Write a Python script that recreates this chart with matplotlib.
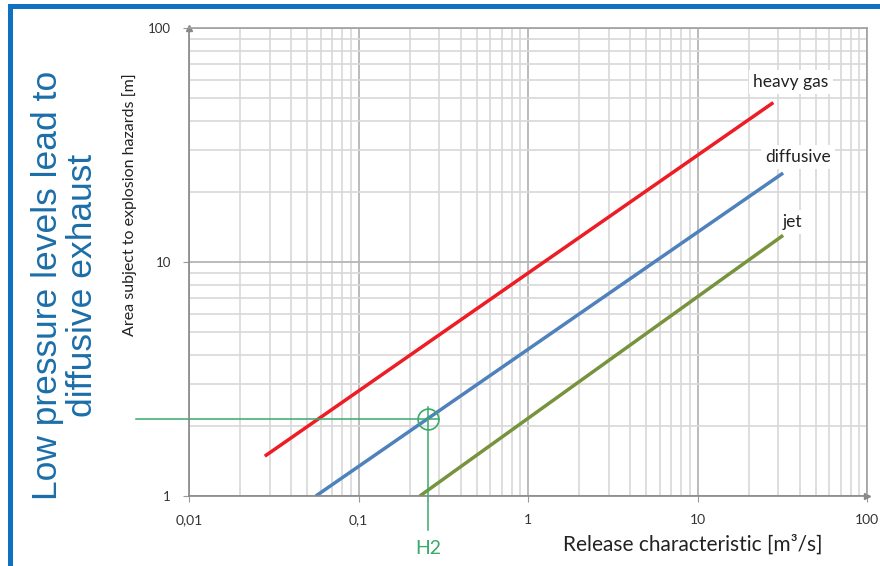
import matplotlib
matplotlib.use('Agg')
import matplotlib.pyplot as plt
from matplotlib.patches import Rectangle
from matplotlib.ticker import FixedLocator, LogLocator, NullFormatter

# line endpoints (release characteristic [m3/s], area [m])
heavy_x = [0.028, 28]
heavy_y = [1.48, 48]
diff_x = [0.056, 32]
diff_y = [1.0, 24]
jet_x = [0.23, 32]
jet_y = [1.0, 13]

# H2 reading point
h2_x = 0.256
h2_y = 2.13

xticks = [0.01, 0.1, 1, 10, 100]
xticklabels = ['0,01', '0,1', '1', '10', '100']
yticks = [1, 10, 100]
yticklabels = ['1', '10', '100']

W, H = 880, 566
fig = plt.figure(figsize=(W / 100, H / 100), dpi=100)

# slide frame
fig.add_artist(Rectangle((8 / W, 1 - 9 / H), 1, 5 / H, transform=fig.transFigure,
                         color='#1071c2', lw=0))
fig.add_artist(Rectangle((8 / W, 0), 5 / W, 1 - 4 / H, transform=fig.transFigure,
                         color='#1071c2', lw=0))

ax = fig.add_axes([189 / W, 1 - 496 / H, (867 - 189) / W, (496 - 28) / H])
ax.set_xscale('log')
ax.set_yscale('log')
ax.set_xlim(0.01, 100)
ax.set_ylim(1, 100)

ax.xaxis.set_minor_locator(LogLocator(base=10, subs=range(2, 10)))
ax.yaxis.set_minor_locator(LogLocator(base=10, subs=range(2, 10)))
ax.xaxis.set_minor_formatter(NullFormatter())
ax.yaxis.set_minor_formatter(NullFormatter())
ax.xaxis.set_major_locator(FixedLocator(xticks))
ax.yaxis.set_major_locator(FixedLocator(yticks))
ax.set_xticklabels(xticklabels, fontsize=10, color='#333333', family='Lato')
ax.set_yticklabels(yticklabels, fontsize=9.5, color='#333333', family='Lato')
ax.tick_params(which='major', length=4, color='#999999')
ax.tick_params(which='minor', length=0)
ax.tick_params(axis='x', pad=9)
ax.tick_params(axis='y', pad=9)

ax.grid(which='major', color='#b5b5b5', lw=1.3)
ax.grid(which='minor', color='#d8d8d8', lw=1.2)
for s in ax.spines.values():
    s.set_color('#a0a0a0')
    s.set_linewidth(1.2)
ax.spines['left'].set_color('#888888')
ax.spines['bottom'].set_color('#888888')

# axis arrows
ax.plot([0], [1], marker='^', ms=5, color='#888888', transform=ax.transAxes, clip_on=False)
ax.plot([1], [0], marker='>', ms=5, color='#888888', transform=ax.transAxes, clip_on=False)

# curves
ax.plot(heavy_x, heavy_y, color='#ee1c25', lw=2.5, solid_capstyle='butt')
ax.plot(diff_x, diff_y, color='#4f81bd', lw=2.5, solid_capstyle='butt')
ax.plot(jet_x, jet_y, color='#77933c', lw=2.5, solid_capstyle='butt')

lab = dict(fontsize=12.5, color='#222222', family='Lato', ha='center', va='center',
           bbox=dict(facecolor='white', edgecolor='none', pad=3))
ax.text(35.5, 58.8, 'heavy gas', **lab)
ax.text(39, 28.1, 'diffusive', **lab)
ax.text(36.5, 14.8, 'jet', **lab)

# H2 reading
green = '#3aa96c'
ax.plot([0.0049, 0.30], [h2_y, h2_y], color=green, lw=1.1, clip_on=False)
ax.plot([h2_x, h2_x], [2.4, 0.716], color=green, lw=1.1, clip_on=False)
ax.plot([h2_x], [h2_y], marker='o', ms=15, mfc='none', mec=green, mew=1.2)
fig.text(428 / W, 1 - 548 / H, 'H2', color=green, fontsize=14, family='Lato',
         ha='center', va='center')

fig.text(693 / W, 1 - 545 / H, 'Release characteristic [m³/s]', fontsize=15,
         family='Lato', color='#222222', ha='center', va='center')
fig.text(130 / W, 1 - 205 / H, 'Area subject to explosion hazards [m]', fontsize=11.5,
         family='Lato', color='#222222', ha='center', va='center', rotation=90)

fig.text(65 / W, 1 - 285 / H, 'Low pressure levels lead to\ndiffusive exhaust',
         fontsize=25.5, family='Liberation Sans', color='#1b6ea8', rotation=90,
         ha='center', va='center', multialignment='center', linespacing=1.05)

fig.savefig('out.png', dpi=100)
